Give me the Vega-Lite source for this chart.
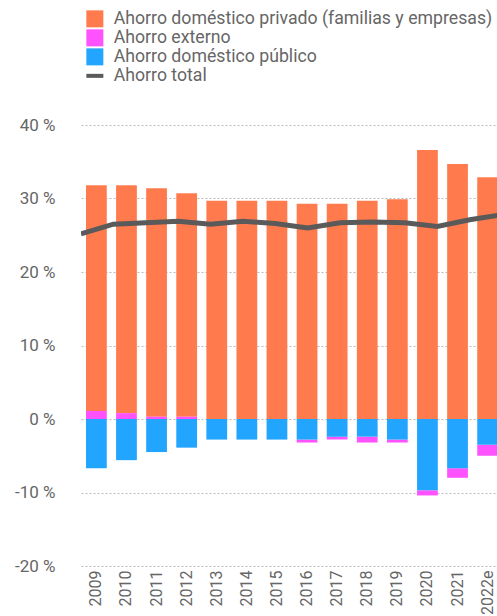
{
  "$schema": "https://vega.github.io/schema/vega-lite/v6.json",
  "autosize": "none",
  "width": 416,
  "height": 441,
  "padding": {"left": 81, "top": 125, "right": 0, "bottom": 50},
  "background": "white",
  "config": {
    "view": {"stroke": null},
    "font": "Roboto"
  },
  "datasets": {
    "bars": [
      {"year": "2009", "serie": "Ahorro doméstico privado (familias y empresas)", "value": 30.7, "ord": 2},
      {"year": "2009", "serie": "Ahorro externo", "value": 1.1, "ord": 1},
      {"year": "2009", "serie": "Ahorro doméstico público", "value": -6.7, "ord": 0},
      {"year": "2010", "serie": "Ahorro doméstico privado (familias y empresas)", "value": 31.0, "ord": 2},
      {"year": "2010", "serie": "Ahorro externo", "value": 0.8, "ord": 1},
      {"year": "2010", "serie": "Ahorro doméstico público", "value": -5.6, "ord": 0},
      {"year": "2011", "serie": "Ahorro doméstico privado (familias y empresas)", "value": 31.1, "ord": 2},
      {"year": "2011", "serie": "Ahorro externo", "value": 0.3, "ord": 1},
      {"year": "2011", "serie": "Ahorro doméstico público", "value": -4.5, "ord": 0},
      {"year": "2012", "serie": "Ahorro doméstico privado (familias y empresas)", "value": 30.4, "ord": 2},
      {"year": "2012", "serie": "Ahorro externo", "value": 0.3, "ord": 1},
      {"year": "2012", "serie": "Ahorro doméstico público", "value": -3.9, "ord": 0},
      {"year": "2013", "serie": "Ahorro doméstico privado (familias y empresas)", "value": 29.7, "ord": 2},
      {"year": "2013", "serie": "Ahorro externo", "value": 0.0, "ord": 1},
      {"year": "2013", "serie": "Ahorro doméstico público", "value": -2.8, "ord": 0},
      {"year": "2014", "serie": "Ahorro doméstico privado (familias y empresas)", "value": 29.7, "ord": 2},
      {"year": "2014", "serie": "Ahorro externo", "value": 0.0, "ord": 1},
      {"year": "2014", "serie": "Ahorro doméstico público", "value": -2.8, "ord": 0},
      {"year": "2015", "serie": "Ahorro doméstico privado (familias y empresas)", "value": 29.7, "ord": 2},
      {"year": "2015", "serie": "Ahorro externo", "value": 0.0, "ord": 1},
      {"year": "2015", "serie": "Ahorro doméstico público", "value": -2.8, "ord": 0},
      {"year": "2016", "serie": "Ahorro doméstico privado (familias y empresas)", "value": 29.3, "ord": 2},
      {"year": "2016", "serie": "Ahorro externo", "value": -0.4, "ord": 1},
      {"year": "2016", "serie": "Ahorro doméstico público", "value": -2.8, "ord": 0},
      {"year": "2017", "serie": "Ahorro doméstico privado (familias y empresas)", "value": 29.3, "ord": 2},
      {"year": "2017", "serie": "Ahorro externo", "value": -0.4, "ord": 1},
      {"year": "2017", "serie": "Ahorro doméstico público", "value": -2.4, "ord": 0},
      {"year": "2018", "serie": "Ahorro doméstico privado (familias y empresas)", "value": 29.7, "ord": 2},
      {"year": "2018", "serie": "Ahorro externo", "value": -0.8, "ord": 1},
      {"year": "2018", "serie": "Ahorro doméstico público", "value": -2.4, "ord": 0},
      {"year": "2019", "serie": "Ahorro doméstico privado (familias y empresas)", "value": 29.9, "ord": 2},
      {"year": "2019", "serie": "Ahorro externo", "value": -0.4, "ord": 1},
      {"year": "2019", "serie": "Ahorro doméstico público", "value": -2.8, "ord": 0},
      {"year": "2020", "serie": "Ahorro doméstico privado (familias y empresas)", "value": 36.6, "ord": 2},
      {"year": "2020", "serie": "Ahorro externo", "value": -0.7, "ord": 1},
      {"year": "2020", "serie": "Ahorro doméstico público", "value": -9.7, "ord": 0},
      {"year": "2021", "serie": "Ahorro doméstico privado (familias y empresas)", "value": 34.7, "ord": 2},
      {"year": "2021", "serie": "Ahorro externo", "value": -1.3, "ord": 1},
      {"year": "2021", "serie": "Ahorro doméstico público", "value": -6.7, "ord": 0},
      {"year": "2022e", "serie": "Ahorro doméstico privado (familias y empresas)", "value": 32.9, "ord": 2},
      {"year": "2022e", "serie": "Ahorro externo", "value": -1.5, "ord": 1},
      {"year": "2022e", "serie": "Ahorro doméstico público", "value": -3.5, "ord": 0}
    ],
    "total": [
      {"year": "2009", "value": 25.2},
      {"year": "2010", "value": 26.5},
      {"year": "2011", "value": 26.7},
      {"year": "2012", "value": 26.9},
      {"year": "2013", "value": 26.5},
      {"year": "2014", "value": 26.9},
      {"year": "2015", "value": 26.6},
      {"year": "2016", "value": 26.0},
      {"year": "2017", "value": 26.7},
      {"year": "2018", "value": 26.8},
      {"year": "2019", "value": 26.7},
      {"year": "2020", "value": 26.2},
      {"year": "2021", "value": 27.1},
      {"year": "2022e", "value": 27.8}
    ]
  },
  "layer": [
    {
      "data": {"name": "bars"},
      "mark": {"type": "bar", "clip": true},
      "encoding": {
        "x": {
          "field": "year", "type": "nominal", "sort": null,
          "scale": {"range": [0, 422], "paddingInner": 0.31, "paddingOuter": 0.166},
          "axis": {
            "title": null, "labelAngle": 270, "labelAlign": "right", "labelBaseline": "middle",
            "labelPadding": 4, "ticks": false, "domain": false, "grid": false,
            "labelColor": "#666666", "labelFontSize": 16, "labelFont": "Roboto"
          }
        },
        "y": {
          "field": "value", "type": "quantitative", "stack": "zero",
          "scale": {"domain": [-20, 40], "nice": false},
          "axis": {
            "title": null, "values": [-20, -10, 0, 10, 20, 30, 40],
            "labelExpr": "datum.value + ' %'",
            "ticks": false, "domain": false, "labelPadding": 26,
            "labelColor": "#666666", "labelFontSize": 17, "labelFont": "Roboto",
            "grid": true, "gridColor": "#bbbbbb", "gridDash": [2, 2], "gridWidth": 1
          }
        },
        "order": {"field": "ord", "type": "quantitative"},
        "color": {
          "field": "serie", "type": "nominal",
          "scale": {
            "domain": ["Ahorro doméstico privado (familias y empresas)", "Ahorro externo", "Ahorro doméstico público", "Ahorro total"],
            "range": ["#ff7b4d", "#ff52ff", "#22a5ff", "#5a5a5a"]
          },
          "legend": {
            "title": null, "orient": "none", "legendX": 5, "legendY": -115,
            "direction": "vertical", "padding": 0,
            "labelColor": "#666666", "labelFontSize": 17.7, "labelFont": "Roboto",
            "labelLimit": 500, "labelOffset": 10, "symbolSize": 289, "rowPadding": 0,
            "symbolType": "square", "symbolStrokeWidth": 0,
            "encode": {
              "symbols": {
                "update": {
                  "shape": {"signal": "datum.value === 'Ahorro total' ? 'stroke' : 'square'"},
                  "size": {"value": 289},
                  "fill": {"signal": "datum.value === 'Ahorro total' ? 'transparent' : scale('color', datum.value)"},
                  "stroke": {"signal": "datum.value === 'Ahorro total' ? '#5a5a5a' : 'transparent'"},
                  "strokeWidth": {"signal": "datum.value === 'Ahorro total' ? 4 : 0"},
                  "opacity": {"value": 1}
                }
              }
            }
          }
        }
      }
    },
    {
      "data": {"name": "total"},
      "mark": {"type": "line", "clip": true, "strokeWidth": 5, "strokeCap": "butt"},
      "encoding": {
        "x": {
          "field": "year", "type": "ordinal", "sort": null,
          "scale": {"type": "point", "range": [0, 421], "padding": 0},
          "axis": null
        },
        "y": {"field": "value", "type": "quantitative"},
        "color": {"datum": "Ahorro total"}
      }
    }
  ],
  "resolve": {"scale": {"x": "independent"}}
}
